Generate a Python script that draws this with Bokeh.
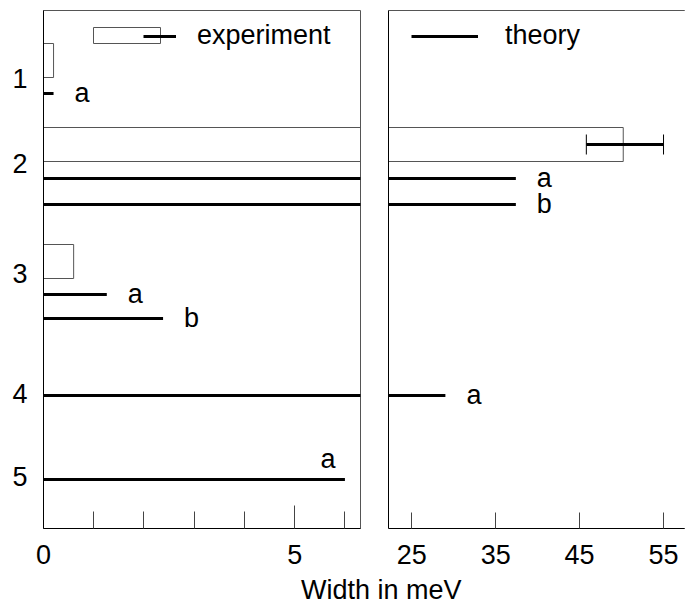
from bokeh.plotting import figure
from bokeh.models import (Range1d, FixedTicker, Legend, LegendItem, Div,
                          ColumnDataSource, LinearAxis, BoxAnnotation, Span)
from bokeh.layouts import row, column
from bokeh.embed import file_html
from bokeh.resources import INLINE
from bokeh.core.properties import value

FONT = "Liberation Sans"

# ---------------- data ----------------
# vertical position of each state (level axis, increasing downwards)
state_labels = ["1", "2", "3", "4", "5"]
state_pos = [6.8, 15.25, 26.3, 38.25, 46.6]

# experimental widths (meV): box drawn from 0 to width
exp_state = ["1", "2", "3"]
exp_pos = [5.0, 13.4, 25.1]
exp_width = [0.2, 50.2, 0.6]
# error bar (only for state 2)
err_pos = [13.4]
err_lo = [45.8]
err_hi = [55.0]

# theoretical widths (meV)
th_pos = [8.3, 16.8, 19.4, 28.4, 30.8, 38.5, 46.9]
th_tag = ["a", "a", "b", "a", "b", "a", "a"]
th_width = [0.2, 37.4, 37.4, 1.26, 2.38, 29.0, 6.0]

# tick values
left_major = [0, 5]
left_minor = [1, 2, 3, 4, 6]
right_major = [25, 35, 45, 55]

# ---------------- styles ----------------
LEFT_X = (0, 6.31)
RIGHT_X = (22.22, 57.62)
Y_RANGE = (51.8, 0)
BOX_HALF = 1.7
CAP_HALF = 1.0
BOX_COLOR = "#555555"
TXT = "27px"

exp_src = ColumnDataSource(dict(
    left=[0] * len(exp_width), right=exp_width,
    top=[p - BOX_HALF for p in exp_pos], bottom=[p + BOX_HALF for p in exp_pos]))
err_src = ColumnDataSource(dict(x0=err_lo, x1=err_hi, y=err_pos))
cap_src = ColumnDataSource(dict(
    x=err_lo + err_hi,
    y0=[p - CAP_HALF for p in err_pos] * 2,
    y1=[p + CAP_HALF for p in err_pos] * 2))
th_src = ColumnDataSource(dict(x0=[0] * len(th_width), x1=th_width, y=th_pos))


def make_fig(width, xr, mbl, mbr):
    p = figure(width=width, height=575, x_range=Range1d(*xr),
               y_range=Range1d(*Y_RANGE), output_backend="svg",
               toolbar_location=None, min_border_left=mbl,
               min_border_right=mbr, min_border_top=10, min_border_bottom=47)
    p.xgrid.visible = False
    p.ygrid.visible = False
    p.background_fill_color = "white"
    p.border_fill_color = "white"
    for ax in (p.below[0], p.left[0]):
        ax.axis_line_color = "black"
        ax.axis_line_width = 1
        ax.major_label_text_font = FONT
        ax.major_label_text_font_size = TXT
        ax.major_label_text_color = "black"
        ax.major_tick_out = 0
        ax.minor_tick_out = 0
        ax.major_tick_line_color = "#444444"
        ax.minor_tick_line_color = "#444444"
    exp_r = p.quad(left="left", right="right", top="top", bottom="bottom",
                   source=exp_src, fill_color=None, line_color=BOX_COLOR,
                   line_width=1)
    err_r = p.segment(x0="x0", x1="x1", y0="y", y1="y", source=err_src,
                      line_color="black", line_width=3)
    p.segment(x0="x", x1="x", y0="y0", y1="y1", source=cap_src,
              line_color="black", line_width=1)
    th_r = p.segment(x0="x0", x1="x1", y0="y", y1="y", source=th_src,
                     line_color="black", line_width=3)
    return p, exp_r, err_r, th_r


# ---------- left panel ----------
left, exp_l, err_l, th_l = make_fig(374, LEFT_X, 43, 14)
left.outline_line_color = BOX_COLOR
left.below[0].ticker = FixedTicker(ticks=left_major, minor_ticks=left_minor)
left.below[0].major_tick_in = 23
left.below[0].minor_tick_in = 17
left.below[0].major_label_standoff = 16
left.left[0].ticker = FixedTicker(ticks=state_pos, minor_ticks=[])
left.left[0].major_label_overrides = {p: s for p, s in zip(state_pos, state_labels)}
left.left[0].major_tick_line_color = None
left.left[0].minor_tick_line_color = None
left.left[0].major_label_standoff = 16

# ---------- right panel ----------
right, exp_r, err_r, th_r = make_fig(311, RIGHT_X, 14, 0)
right.outline_line_color = None
right.below[0].ticker = FixedTicker(ticks=right_major, minor_ticks=[])
right.below[0].major_tick_in = 16
right.below[0].major_label_standoff = 16
right.left[0].ticker = FixedTicker(ticks=[], minor_ticks=[])
right.left[0].major_label_standoff = 0
top_axis = LinearAxis(ticker=FixedTicker(ticks=[], minor_ticks=[]),
                      axis_line_color=BOX_COLOR, axis_line_width=1,
                      major_tick_line_color=None, minor_tick_line_color=None,
                      major_label_standoff=0, major_tick_out=0,
                      minor_tick_out=0)
right.add_layout(top_axis, "above")
# the right panel is open on its right side (it runs off the page)
right.add_layout(Span(location=RIGHT_X[1], dimension="height",
                      line_color="white", line_width=3, level="overlay"))

# ---------- tag labels (a / b) ----------
near_edge = [w > LEFT_X[1] - 0.5 and w <= LEFT_X[1] for w in th_width]
for p, lo, hi in ((left, LEFT_X[0], LEFT_X[1]), (right, LEFT_X[1], RIGHT_X[1])):
    idx = [i for i, w in enumerate(th_width) if lo < w <= hi]
    side = [i for i in idx if not near_edge[i]]
    top = [i for i in idx if near_edge[i]]
    if side:
        p.text(x=[th_width[i] for i in side], y=[th_pos[i] for i in side],
               text=[th_tag[i] for i in side], text_font=value(FONT),
               text_font_size=TXT, text_align="left", text_baseline="middle",
               x_offset=21, y_offset=-1, text_color="black")
    if top:
        p.text(x=[th_width[i] for i in top], y=[th_pos[i] for i in top],
               text=[th_tag[i] for i in top], text_font=value(FONT),
               text_font_size=TXT, text_align="center", text_baseline="middle",
               x_offset=-17, y_offset=-21, text_color="black")

# ---------- legends ----------
def make_legend(items, gw, gh, standoff, loc):
    return Legend(items=items, location=loc, glyph_width=gw, glyph_height=gh,
                  label_standoff=standoff, padding=0, margin=0, spacing=0,
                  border_line_color=None, background_fill_alpha=0,
                  label_text_font=FONT, label_text_font_size=TXT,
                  label_text_color="black")

# open box key of the "experiment" legend (screen px from frame bottom-left)
left.add_layout(BoxAnnotation(left=50, right=117, bottom=485, top=501,
                              left_units="screen", right_units="screen",
                              bottom_units="screen", top_units="screen",
                              fill_color=None, fill_alpha=0,
                              line_color=BOX_COLOR, line_alpha=1,
                              line_width=1, level="underlay"))
left.add_layout(make_legend([LegendItem(label="experiment", renderers=[err_l])],
                            33, 30, 21, (100, 477)))
right.add_layout(make_legend([LegendItem(label="theory", renderers=[th_r])],
                             67, 30, 27, (23, 477)))

title = Div(text="Width in meV", width=300, height=30, margin=(0, 0, 0, 301),
            styles={"font-family": FONT, "font-size": "27px",
                    "line-height": "30px", "color": "black",
                    "white-space": "nowrap"})

layout = column(row(left, right), title)
open("out.html", "w").write(file_html(layout, INLINE))
